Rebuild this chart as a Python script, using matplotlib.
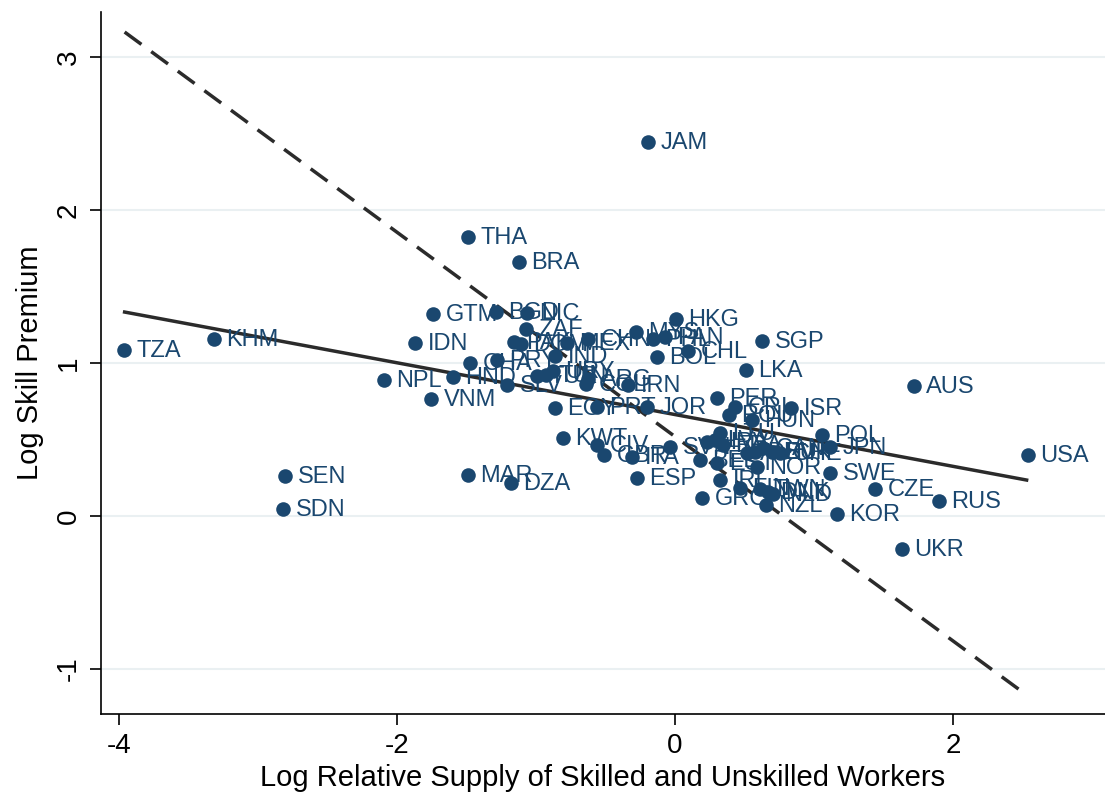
import numpy as np
import matplotlib.pyplot as plt

# ==========================================
# データ
# ==========================================
countries = [
    "TZA", "KHM", "NPL", "IDN", "GTM", "VNM", "HND", "CHA", "THA", "BRA",
    "BGD", "NIC", "ZAF", "PRY", "PAK", "DOM", "MEX", "CHN", "IND", "SLV",
    "TUR", "TUN", "URY", "ARG", "COL", "IRN", "EGY", "PRT", "JOR", "MYS",
    "PHL", "PAN", "HKG", "BOL", "CHL", "SGP", "LKA", "JAM", "AUS", "USA",
    "PER", "CRI", "ROU", "HUN", "ISR", "POL", "JPN", "LTU", "KWT", "CIV",
    "GBR", "ITA", "SVN", "HRV", "LVA", "FRA", "BEL", "EST", "AUT", "DEU",
    "CAN", "SVK", "CHE", "NOR", "SWE", "CZE", "IRL", "ESP", "GRC", "NZL",
    "KOR", "RUS", "UKR", "FIN", "TWN", "DNK", "NLD", "MAR", "DZA", "SEN",
    "SDN",
]
log_supply = [
    -3.964, -3.317, -2.094, -1.871, -1.741, -1.755, -1.597, -1.475, -1.489, -1.122,
    -1.288, -1.065, -1.072, -1.281, -1.158, -1.108, -0.777, -0.626, -0.863, -1.209,
    -0.993, -0.928, -0.878, -0.626, -0.640, -0.338, -0.863, -0.561, -0.201, -0.281,
    -0.158, -0.072, 0.007, -0.129, 0.094, 0.626, 0.511, -0.194, 1.719, 2.540,
    0.302, 0.432, 0.388, 0.554, 0.835, 1.058, 1.115, 0.324, -0.806, -0.561,
    -0.511, -0.309, -0.036, 0.230, 0.288, 0.345, 0.180, 0.302, 0.518, 0.576,
    0.633, 0.698, 0.755, 0.590, 1.115, 1.439, 0.324, -0.273, 0.194, 0.655,
    1.165, 1.899, 1.633, 0.468, 0.612, 0.669, 0.705, -1.489, -1.180, -2.806,
    -2.820,
]
log_premium = [
    1.085, 1.157, 0.889, 1.131, 1.320, 0.765, 0.908, 1.000, 1.824, 1.660,
    1.333, 1.327, 1.222, 1.020, 1.137, 1.124, 1.131, 1.157, 1.046, 0.856,
    0.915, 0.922, 0.948, 0.895, 0.863, 0.856, 0.706, 0.712, 0.712, 1.203,
    1.157, 1.170, 1.288, 1.039, 1.078, 1.144, 0.954, 2.444, 0.850, 0.399,
    0.771, 0.712, 0.660, 0.627, 0.706, 0.529, 0.451, 0.542, 0.510, 0.464,
    0.399, 0.386, 0.451, 0.484, 0.497, 0.464, 0.366, 0.346, 0.412, 0.418,
    0.444, 0.418, 0.412, 0.320, 0.281, 0.176, 0.235, 0.248, 0.118, 0.072,
    0.013, 0.098, -0.216, 0.183, 0.176, 0.157, 0.144, 0.268, 0.216, 0.261,
    0.046,
]

# 回帰線 (端点を図から読み取り)
fit_x = [-3.96, 2.53]
fit_y = [1.333, 0.235]
dash_x = [-3.96, 2.53]
dash_y = [3.163, -1.170]

x_ticks = [-4, -2, 0, 2]
y_ticks = [-1, 0, 1, 2, 3]

# ==========================================
# 描画
# ==========================================
plt.rcParams['font.family'] = ['Liberation Sans', 'DejaVu Sans']
navy = '#1a476f'

fig = plt.figure(figsize=(11.05, 7.97), dpi=100)
ax = fig.add_axes([101 / 1105, 83 / 797, 1004 / 1105, 702 / 797])

for yt in y_ticks:
    ax.axhline(yt, color='#eaf0f2', lw=1.5, zorder=0)

ax.plot(dash_x, dash_y, color='#2b2b2b', lw=2.5, dashes=(6, 3.5), zorder=2)
ax.plot(fit_x, fit_y, color='#2b2b2b', lw=2.5, zorder=2)

ax.scatter(log_supply, log_premium, s=110, color=navy, zorder=3, linewidths=0)
for name, xv, yv in zip(countries, log_supply, log_premium):
    ax.annotate(name, (xv, yv), xytext=(9, -1), textcoords='offset points',
                va='center', ha='left', fontsize=17, color=navy, zorder=4)

ax.set_xlim(-4.13, 3.094)
ax.set_ylim(-1.294, 3.294)
ax.set_xticks(x_ticks)
ax.set_yticks(y_ticks)
ax.set_xticklabels([str(t) for t in x_ticks])
ax.set_yticklabels([str(t) for t in y_ticks], rotation=90, va='center')
ax.tick_params(axis='both', length=8, width=1.2, labelsize=20, pad=6)

for side in ['top', 'right']:
    ax.spines[side].set_visible(False)
for side in ['left', 'bottom']:
    ax.spines[side].set_linewidth(1.2)

ax.set_xlabel("Log Relative Supply of Skilled and Unskilled Workers", fontsize=21, labelpad=3)
ax.set_ylabel("Log Skill Premium", fontsize=21, labelpad=8)

plt.savefig('out.png', dpi=100)
